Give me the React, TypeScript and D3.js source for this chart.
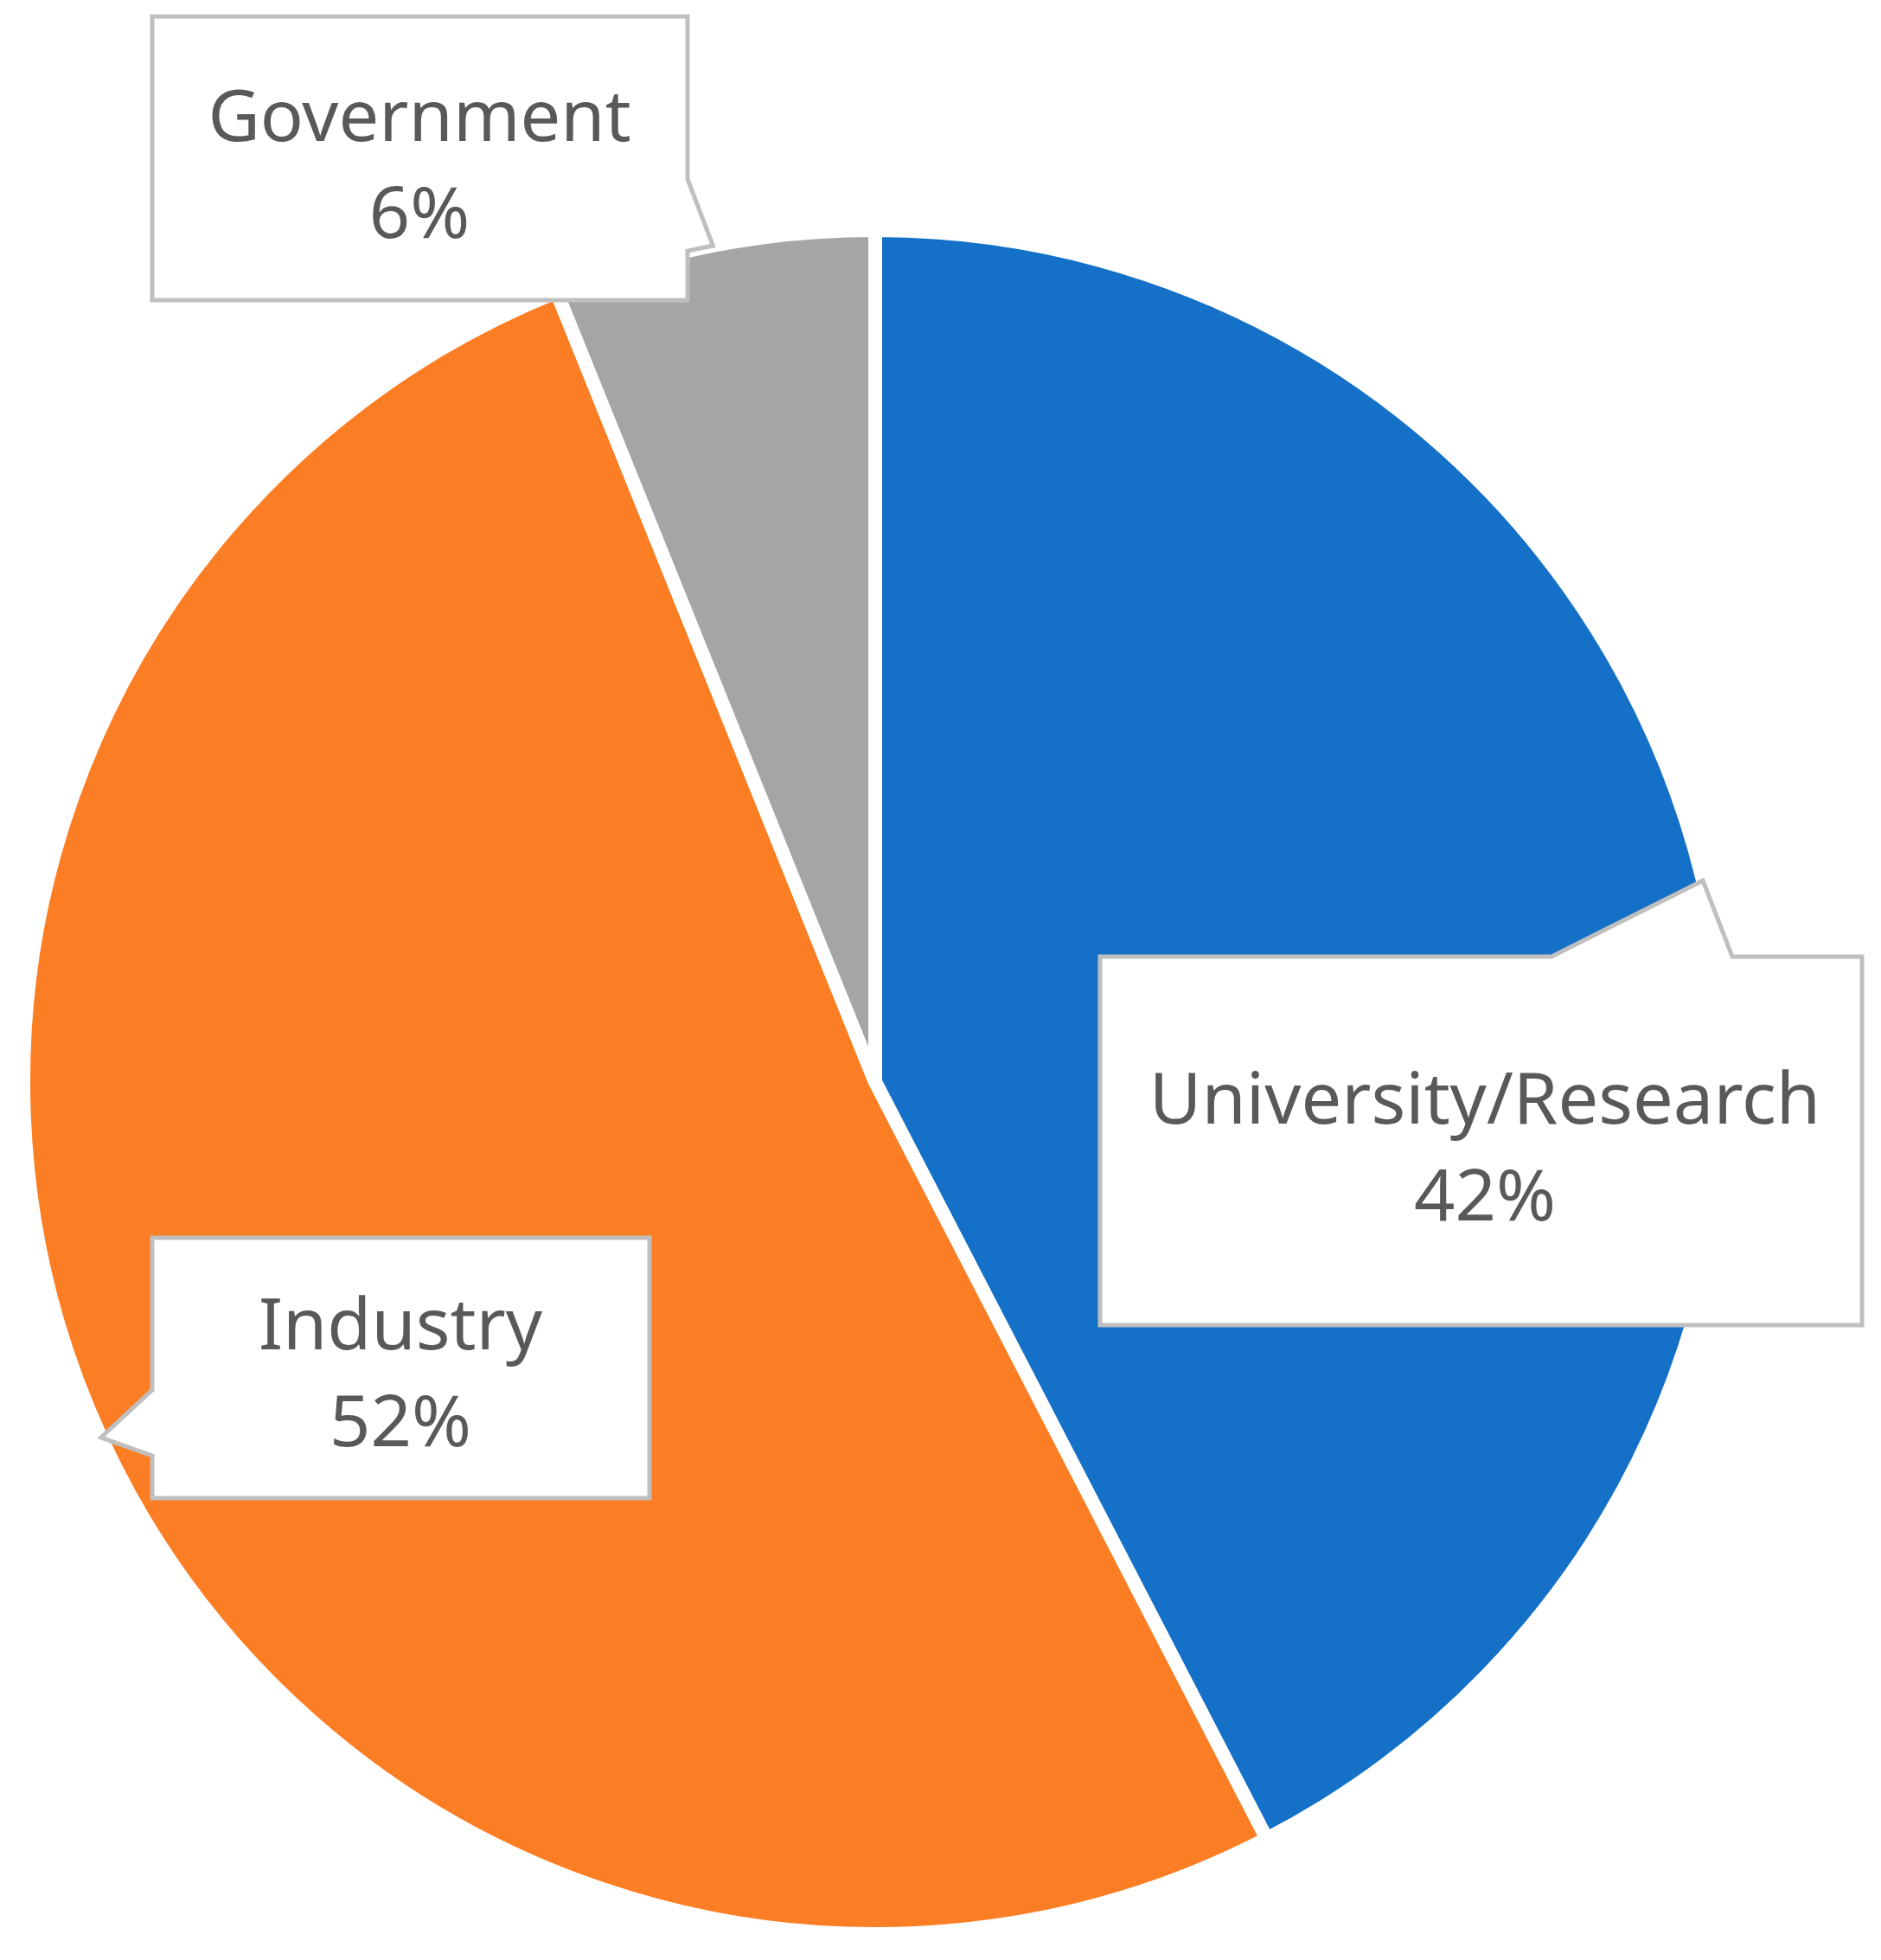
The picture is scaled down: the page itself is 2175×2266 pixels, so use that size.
import React from "react";
import * as d3 from "d3";

const categories = ["University/Research", "Industry", "Government"];
const values = [42.4, 51.5, 6.1];
const percentLabels = ["42%", "52%", "6%"];
const colors = ["#1570C7", "#FC7E24", "#A5A5A5"];

const W = 2175;
const H = 2266;
const CX = 1012;
const CY = 1251;
const R = 985;

// callout box layout (positions only)
const boxes = [
  { x: 1272, y: 1106, w: 881, h: 426, side: "top", a1: 1794, a2: 2003, tx: 1717, ty: 1299 },
  { x: 176, y: 1431, w: 575, h: 301, side: "left", a1: 1607, a2: 1683, tx: 463, ty: 1560 },
  { x: 176, y: 19, w: 619, h: 328, side: "right", a1: 207, a2: 290, tx: 485, ty: 163 },
];

function calloutPath(b: any, tip: [number, number]) {
  const { x, y, w, h, side, a1, a2 } = b;
  const p: [number, number][] = [];
  if (side === "top") {
    p.push([x, y], [a1, y], tip, [a2, y], [x + w, y], [x + w, y + h], [x, y + h]);
  } else if (side === "right") {
    p.push([x, y], [x + w, y], [x + w, a1], tip, [x + w, a2], [x + w, y + h], [x, y + h]);
  } else {
    p.push([x, y], [x + w, y], [x + w, y + h], [x, y + h], [x, a2], tip, [x, a1]);
  }
  return "M" + p.map((q) => q.join(",")).join("L") + "Z";
}

export default function App() {
  const pie = d3.pie<number>().sort(null).value((d) => d)(values);
  const arc = d3.arc<d3.PieArcDatum<number>>().innerRadius(0).outerRadius(R);

  return (
    <svg
      width={W}
      height={H}
      viewBox={`0 0 ${W} ${H}`}
      style={{ position: "absolute", left: 0, top: 0, background: "#fff" }}
    >
      <rect x={0} y={0} width={W} height={H} fill="#fff" />
      <g transform={`translate(${CX},${CY})`}>
        {pie.map((s, i) => (
          <path key={i} d={arc(s) || ""} fill={colors[i]} stroke="#fff" strokeWidth={16} strokeLinejoin="miter" />
        ))}
      </g>
      {pie.map((s, i) => {
        const b = boxes[i];
        const mid = (s.startAngle + s.endAngle) / 2;
        const tip: [number, number] = [CX + R * Math.sin(mid), CY - R * Math.cos(mid)];
        return (
          <g key={"l" + i}>
            <path d={calloutPath(b, tip)} fill="#fff" stroke="#BFBFBF" strokeWidth={5} strokeLinejoin="miter" />
            <text
              x={b.tx}
              y={b.ty}
              textAnchor="middle"
              fontFamily="'Noto Sans', 'Open Sans', sans-serif"
              fontSize={83}
              fill="#595959"
            >
              {categories[i]}
            </text>
            <text
              x={b.tx}
              y={b.ty + 112}
              textAnchor="middle"
              fontFamily="'Noto Sans', 'Open Sans', sans-serif"
              fontSize={83}
              fill="#595959"
            >
              {percentLabels[i]}
            </text>
          </g>
        );
      })}
    </svg>
  );
}
